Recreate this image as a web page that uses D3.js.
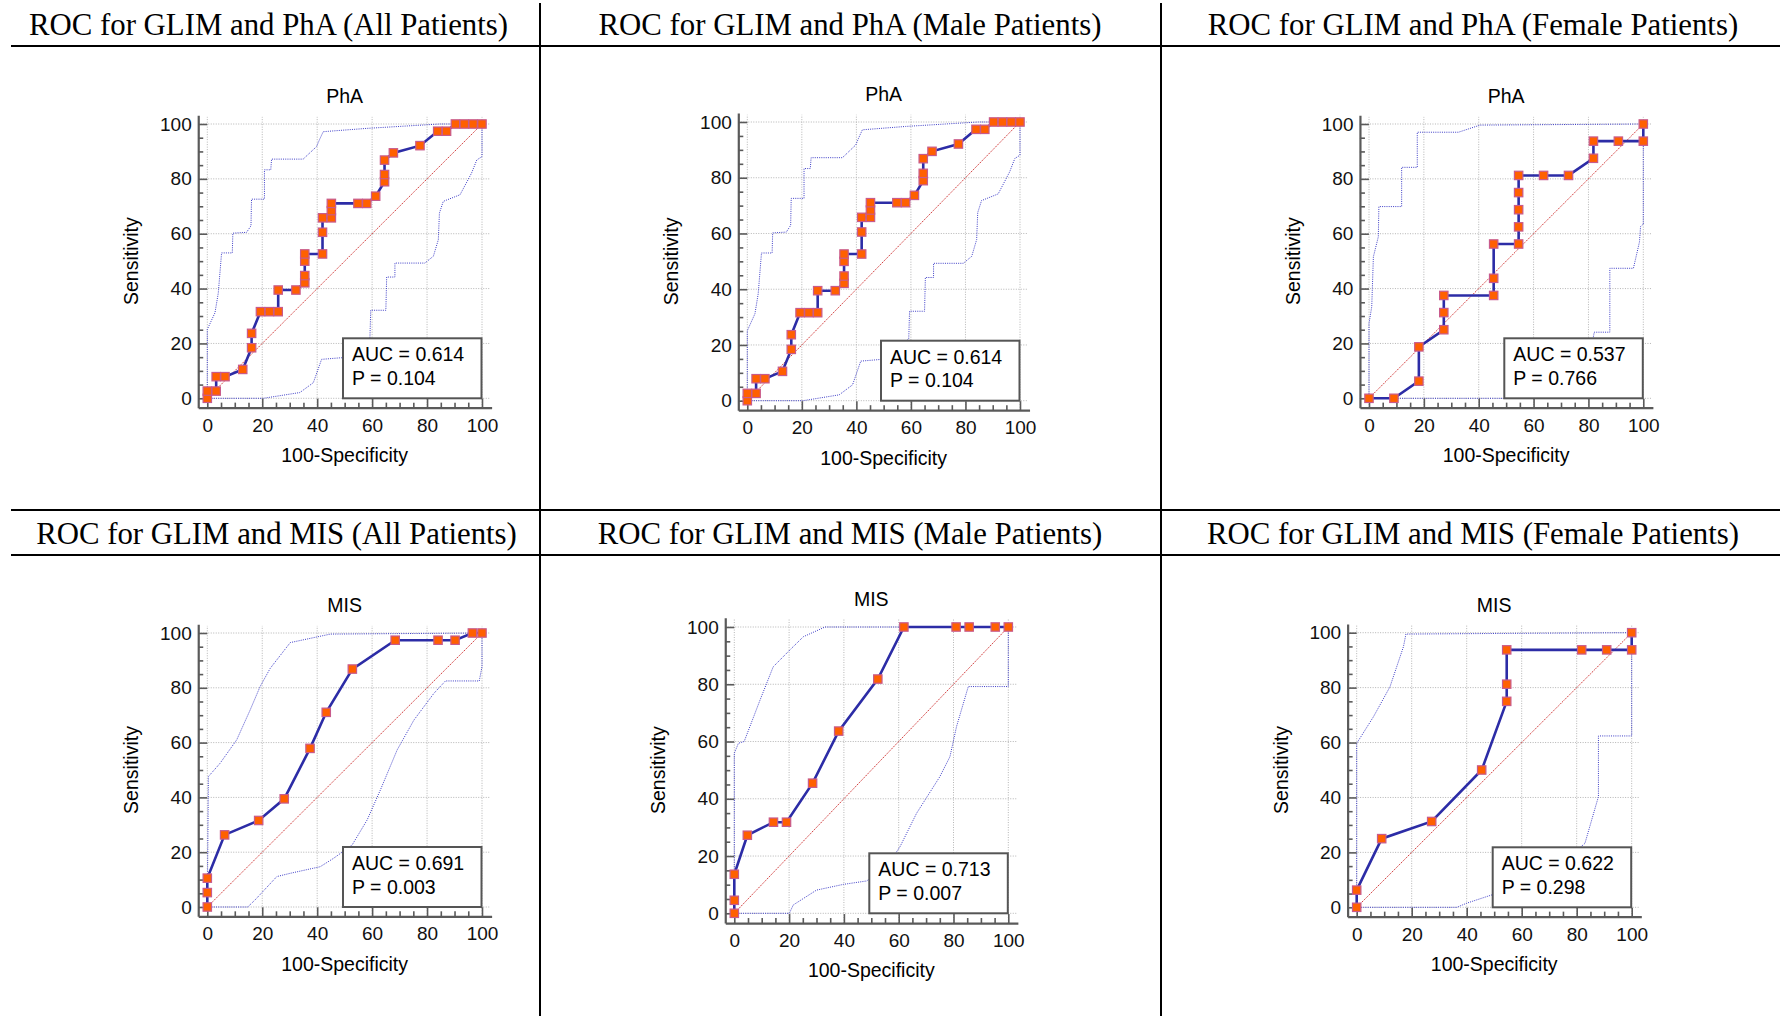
<!DOCTYPE html>
<html>
<head>
<meta charset="utf-8">
<script src="https://cdn.jsdelivr.net/npm/d3@7"></script>
<style>
  body { margin: 0; background: #fff; }
  svg { display: block; }
</style>
</head>
<body>
<script>
// ---- data ----
const panelTitles = [
  "ROC for GLIM and PhA (All Patients)", "ROC for GLIM and PhA (Male Patients)", "ROC for GLIM and PhA (Female Patients)",
  "ROC for GLIM and MIS (All Patients)", "ROC for GLIM and MIS (Male Patients)", "ROC for GLIM and MIS (Female Patients)"
];
const chartNames = ["PhA", "PhA", "PhA", "MIS", "MIS", "MIS"];
const aucValues = ["0.614", "0.614", "0.537", "0.691", "0.713", "0.622"];
const pValues = ["0.104", "0.104", "0.766", "0.003", "0.007", "0.298"];
const axisTicks = [0, 20, 40, 60, 80, 100];
const minorTicks = [5, 10, 15, 25, 30, 35, 45, 50, 55, 65, 70, 75, 85, 90, 95];

// [100-Specificity, Sensitivity]
const phaAllRoc = [[0,0],[0,2.63],[3.23,2.63],[3.23,7.89],[6.45,7.89],[12.9,10.53],[16.13,18.42],[16.13,23.68],
  [19.35,31.58],[22.58,31.58],[25.81,31.58],[25.81,39.47],[32.26,39.47],[35.48,42.11],[35.48,44.74],[35.48,50],
  [35.48,52.63],[41.94,52.63],[41.94,60.53],[41.94,65.79],[45.16,65.79],[45.16,68.42],[45.16,71.05],[54.84,71.05],
  [58.06,71.05],[61.29,73.68],[64.52,78.95],[64.52,81.58],[64.52,86.84],[67.74,89.47],[77.42,92.11],[83.87,97.37],
  [87.1,97.37],[90.32,100],[93.55,100],[96.77,100],[100,100]];
const phaAllUpper = [[0,0],[0,25.1],[2.8,31.2],[4,38.4],[5.2,53],[9.1,53],[9.3,60.2],[14.3,60.5],[15.9,62.9],
  [16.1,72.6],[20.8,72.6],[20.8,83.3],[23.1,83.3],[23.4,87.2],[34.9,87.2],[39.8,91.8],[40.8,94.2],[42.2,97.2],
  [58,98.4],[84.7,100],[100,100]];
const phaAllLower = [[0,0],[20.4,0],[33.7,2.1],[38.6,5.7],[41.6,14.2],[48.9,14.8],[59.2,22.1],[59.5,32.1],[65,32.1],
  [65.3,44.2],[68.3,44.2],[68.3,49.3],[79.2,49.3],[82.3,51.8],[84.1,57.8],[84.5,67.5],[85.9,71.8],[92,74.2],
  [96.2,82.1],[98.1,86.9],[100,88.1],[100,100]];

// male PhA panel shows the same curve as all patients
const phaMaleRoc = phaAllRoc;
const phaMaleUpper = phaAllUpper;
const phaMaleLower = phaAllLower;

const phaFemaleRoc = [[0,0],[9.09,0],[18.18,6.25],[18.18,18.75],[27.27,25],[27.27,31.25],[27.27,37.5],[45.45,37.5],
  [45.45,43.75],[45.45,56.25],[54.55,56.25],[54.55,62.5],[54.55,68.75],[54.55,75],[54.55,81.25],[63.64,81.25],
  [72.73,81.25],[81.82,87.5],[81.82,93.75],[90.91,93.75],[100,93.75],[100,100]];
const phaFemaleUpper = [[0,0],[0,27.3],[1,33.4],[1.6,51.6],[3.4,58.9],[3.6,69.9],[11.9,69.9],[11.9,84.2],[17.6,84.2],
  [17.6,97],[32.6,97],[40.5,99.6],[100,100]];
const phaFemaleLower = [[0,0],[72,0],[80,12],[82.1,24.1],[87.8,24.1],[87.8,47.4],[96.4,47.4],[98.6,57],[99,62.6],
  [100,63.5],[100,100]];

const misAllRoc = [[0,0],[0,5.26],[0,10.53],[6.3,26.32],[18.7,31.58],[28,39.47],[37.4,57.89],[43.3,71.05],
  [52.8,86.84],[68.4,97.37],[84,97.37],[90.2,97.37],[96.5,100],[100,100]];
const misAllUpper = [[0,0],[0.4,47.6],[4.6,52.4],[10.7,61],[15.6,71.9],[19.2,80.4],[22.9,87.1],[30.2,96.5],
  [44.8,99.6],[100,100]];
const misAllLower = [[0,0],[14.7,0],[17.4,2.6],[25.3,11.1],[30.2,12.3],[41.1,14.7],[46,17.8],[52.7,22.6],[58.2,31.8],
  [63,42.7],[69.1,57.3],[75.2,68.2],[82.5,78],[86.7,82.5],[99,82.5],[100,87.7],[100,100]];

const misMaleRoc = [[0,0],[0,4.55],[0,13.64],[4.76,27.27],[14.29,31.82],[19.05,31.82],[28.57,45.45],[38.1,63.64],
  [52.38,81.82],[61.9,100],[80.95,100],[85.71,100],[95.24,100],[100,100]];
const misMaleUpper = [[0,0],[0,55.9],[1.5,59.4],[3.6,60],[9.4,74.5],[14.2,86.1],[20.3,92],[25.2,96.6],[33.1,100],
  [100,100]];
const misMaleLower = [[0,0],[20.1,0],[21.5,2.9],[30,8.1],[39.8,10.1],[48.3,11.3],[55.6,16.3],[60.5,23.3],[66.5,34.9],
  [75,47.7],[78.7,54.7],[81.1,65.2],[85.4,79.2],[100,79.2],[100,100]];

const misFemaleRoc = [[0,0],[0,6.25],[9.09,25],[27.27,31.25],[45.45,50],[54.55,75],[54.55,81.25],[54.55,93.75],
  [81.82,93.75],[90.91,93.75],[100,93.75],[100,100]];
const misFemaleUpper = [[0,0],[0,26.9],[0,59.7],[6.1,69.4],[12.1,80.3],[17,94.9],[17.9,99.5],[63,99.8],[100,100]];
const misFemaleLower = [[0,0],[36.4,0],[40,1.5],[49.1,4.5],[70,12],[83,23.3],[87.9,40.3],[87.9,62.4],[100,62.4],
  [100,100]];

const rocSeries = [phaAllRoc, phaMaleRoc, phaFemaleRoc, misAllRoc, misMaleRoc, misFemaleRoc];
const upperSeries = [phaAllUpper, phaMaleUpper, phaFemaleUpper, misAllUpper, misMaleUpper, misFemaleUpper];
const lowerSeries = [phaAllLower, phaMaleLower, phaFemaleLower, misAllLower, misMaleLower, misFemaleLower];

// ---- page ----
const svgWidth = 1780, svgHeight = 1016;
const svg = d3.select("body").append("svg")
  .attr("width", svgWidth)
  .attr("height", svgHeight);

// table rules
const rules = svg.append("g").attr("stroke", "#000").attr("stroke-width", 2);
[540, 1161].forEach(x => rules.append("line").attr("x1", x).attr("x2", x).attr("y1", 3).attr("y2", svgHeight));
[46, 510, 555].forEach(y => rules.append("line").attr("x1", 11).attr("x2", svgWidth).attr("y1", y).attr("y2", y));

// cell titles
const titleX = [268.5, 850, 1473, 276.5, 850, 1473];
const titleY = [35, 35, 35, 544, 544, 544];
panelTitles.forEach((t, i) => {
  svg.append("text")
    .attr("x", titleX[i]).attr("y", titleY[i])
    .attr("text-anchor", "middle")
    .style("font-family", "'Liberation Serif', 'Times New Roman', serif")
    .style("font-size", "30.8px")
    .attr("fill", "#000")
    .text(t);
});

// plot frames (pixel positions of 0 and 100 on each axis)
const frames = [
  { left: 207.3, right: 482, top: 124, bottom: 398.3 },
  { left: 747.3, right: 1020, top: 122, bottom: 400.7 },
  { left: 1369, right: 1643.3, top: 124, bottom: 398.3 },
  { left: 207.3, right: 482, top: 633, bottom: 907 },
  { left: 734.3, right: 1008.3, top: 627, bottom: 913.3 },
  { left: 1356.7, right: 1631.7, top: 632.7, bottom: 907.3 }
];

const sansFont = "'Liberation Sans', Arial, sans-serif";

const drawPanel = (i) => {
  const f = frames[i];
  const x = d3.scaleLinear().domain([0, 100]).range([f.left, f.right]);
  const y = d3.scaleLinear().domain([0, 100]).range([f.bottom, f.top]);
  const xMin = -3.3, xMax = 103.5, yMin = -3.4, yMax = 103.2;
  const xa = d3.scaleLinear().domain([xMin, xMax]).range([x(xMin), x(xMax)]);
  const ya = d3.scaleLinear().domain([yMin, yMax]).range([y(yMin), y(yMax)]);

  const g = svg.append("g");

  // grid
  const grid = g.append("g")
    .attr("stroke", "#b4b4b4").attr("stroke-width", 1).attr("stroke-dasharray", "1,1.5");
  axisTicks.forEach(v => {
    grid.append("line").attr("x1", x(v)).attr("x2", x(v)).attr("y1", y(yMin)).attr("y2", y(yMax - 0.6));
    grid.append("line").attr("y1", y(v)).attr("y2", y(v)).attr("x1", x(xMin)).attr("x2", x(xMax - 0.5));
  });

  // reference diagonal
  g.append("line")
    .attr("x1", x(0)).attr("y1", y(0)).attr("x2", x(100)).attr("y2", y(100))
    .attr("stroke", "#d23c3c").attr("stroke-width", 1).attr("stroke-dasharray", "1.5,1");

  // confidence bounds
  const line = d3.line().x(d => x(d[0])).y(d => y(d[1]));
  [upperSeries[i], lowerSeries[i]].forEach(b => {
    g.append("path")
      .attr("d", line(b))
      .attr("fill", "none")
      .attr("stroke", "#3434c4")
      .attr("stroke-opacity", 0.95)
      .attr("stroke-width", 1)
      .attr("stroke-dasharray", "1,1.2");
  });

  // AUC box
  const bx = f.right - 139, by = f.bottom - 60;
  g.append("rect")
    .attr("x", bx).attr("y", by).attr("width", 138.5).attr("height", 60)
    .attr("fill", "#fff").attr("stroke", "#555").attr("stroke-width", 2);
  g.append("text").attr("x", bx + 9).attr("y", by + 23)
    .style("font-family", sansFont).style("font-size", "19.5px")
    .text(`AUC = ${aucValues[i]}`);
  g.append("text").attr("x", bx + 9).attr("y", by + 46.5)
    .style("font-family", sansFont).style("font-size", "19.5px")
    .text(`P = ${pValues[i]}`);

  // axes
  const xAxis = g.append("g").attr("transform", `translate(0, ${y(yMin)})`)
    .call(d3.axisBottom(xa).tickValues(axisTicks).tickSizeInner(-9).tickSizeOuter(0).tickPadding(10.5));
  const yAxis = g.append("g").attr("transform", `translate(${x(xMin)}, 0)`)
    .call(d3.axisLeft(ya).tickValues(axisTicks).tickSizeInner(-9).tickSizeOuter(0).tickPadding(6.5));
  g.append("g").attr("transform", `translate(0, ${y(yMin)})`)
    .call(d3.axisBottom(xa).tickValues(minorTicks).tickSize(-5).tickFormat(""))
    .call(a => a.select(".domain").remove());
  g.append("g").attr("transform", `translate(${x(xMin)}, 0)`)
    .call(d3.axisLeft(ya).tickValues(minorTicks).tickSize(-5).tickFormat(""))
    .call(a => a.select(".domain").remove());

  g.selectAll(".domain").attr("stroke", "#5a5a5a").attr("stroke-width", 2.2);
  g.selectAll(".tick line").attr("stroke", "#5a5a5a").attr("stroke-width", 1.6);
  [xAxis, yAxis].forEach(a => a.selectAll("text")
    .style("font-family", sansFont).style("font-size", "19px").attr("fill", "#111"));

  // ROC curve
  g.append("path")
    .attr("d", line(rocSeries[i]))
    .attr("fill", "none")
    .attr("stroke", "#2c2ca6")
    .attr("stroke-width", 2.6);
  g.selectAll(".pt")
    .data(rocSeries[i])
    .enter()
    .append("rect")
    .attr("x", d => x(d[0]) - 4.2)
    .attr("y", d => y(d[1]) - 4.2)
    .attr("width", 8.4).attr("height", 8.4)
    .attr("fill", "#ff6000")
    .attr("stroke", "#c85a8c")
    .attr("stroke-width", 1.2);

  // labels
  const cx = (f.left + f.right) / 2;
  g.append("text").attr("x", cx).attr("y", f.top - 28).attr("dy", "0.35em")
    .attr("text-anchor", "middle")
    .style("font-family", sansFont).style("font-size", "19.5px")
    .text(chartNames[i]);
  g.append("text").attr("x", cx).attr("y", f.bottom + 57).attr("dy", "0.35em")
    .attr("text-anchor", "middle")
    .style("font-family", sansFont).style("font-size", "19.5px")
    .text("100-Specificity");
  g.append("text")
    .attr("transform", `translate(${f.left - 76}, ${(f.top + f.bottom) / 2}) rotate(-90)`)
    .attr("dy", "0.35em")
    .attr("text-anchor", "middle")
    .style("font-family", sansFont).style("font-size", "19.5px")
    .text("Sensitivity");
};

frames.forEach((f, i) => drawPanel(i));
</script>
</body>
</html>
